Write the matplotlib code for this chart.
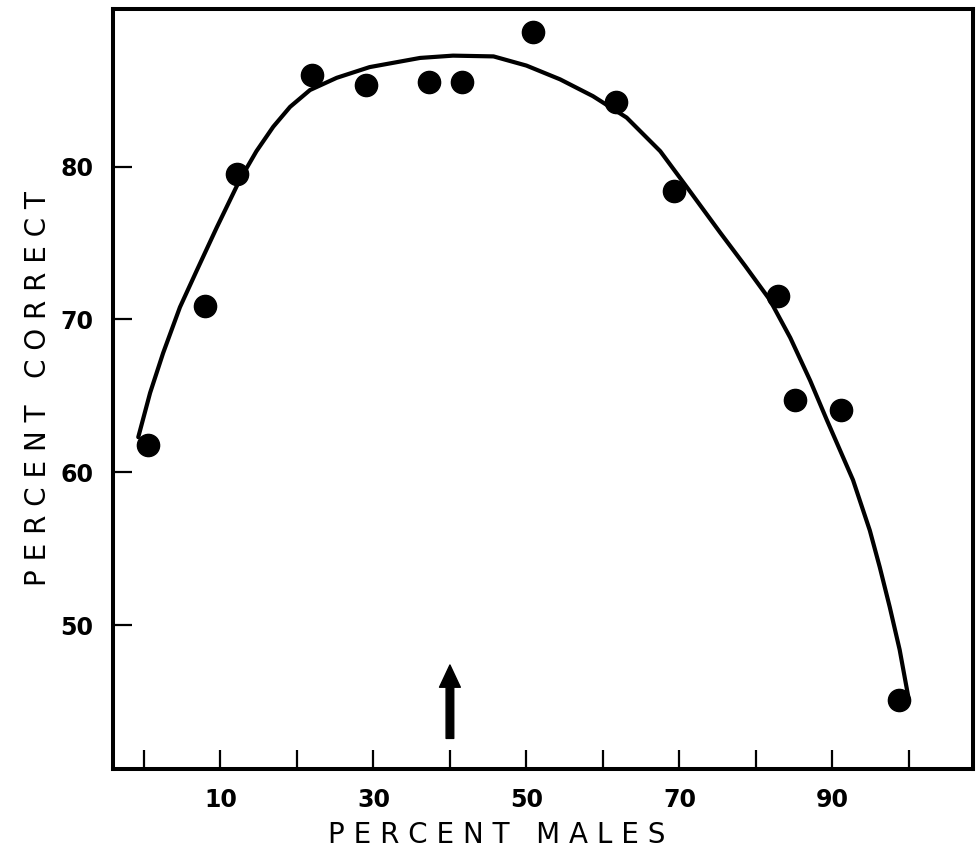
import matplotlib
matplotlib.use("Agg")
import matplotlib.pyplot as plt

# observed points
males = [0.5, 8.0, 12.2, 22.0, 29.0, 37.3, 41.6, 50.9, 61.7, 69.3, 82.9, 85.1, 91.1, 98.7]
correct = [61.8, 70.9, 79.5, 86.0, 85.3, 85.5, 85.5, 88.8, 84.2, 78.4, 71.5, 64.7, 64.1, 45.1]

# fitted curve
curve_x = [-0.75, 0.8, 2.5, 4.7, 6.9, 9.5, 12.5, 14.7, 16.9, 19.1, 21.7, 25.2, 29.5,
           36.1, 40.4, 45.7, 50.0, 54.4, 58.7, 63.1, 67.5, 71.2, 75.3, 78.6, 81.8,
           84.5, 87.1, 89.3, 92.7, 94.9, 96.2, 97.5, 98.8, 99.9]
curve_y = [62.3, 65.2, 67.8, 70.8, 73.2, 76.0, 79.1, 81.0, 82.6, 83.9, 85.0, 85.8, 86.5,
           87.1, 87.25, 87.2, 86.6, 85.7, 84.6, 83.2, 81.0, 78.5, 75.7, 73.5, 71.3,
           68.8, 66.0, 63.4, 59.5, 56.2, 53.8, 51.2, 48.4, 45.4]

arrow_x = 40
arrow_base = 42.6
arrow_tip = 47.4

xticks = list(range(0, 101, 10))
xticklabels = ["", "10", "", "30", "", "50", "", "70", "", "90", ""]
yticks = [50, 60, 70, 80]

fig = plt.figure(figsize=(9.76, 8.57), dpi=100)
ax = fig.add_axes([0.1158, 0.1027, 0.8812, 0.8868])

ax.plot(curve_x, curve_y, color="black", lw=3, solid_capstyle="round",
        solid_joinstyle="round", zorder=2)
ax.plot(males, correct, "o", color="black", ms=16, zorder=3)

ax.annotate("", xy=(arrow_x, arrow_tip), xytext=(arrow_x, arrow_base),
            arrowprops=dict(arrowstyle="simple,head_width=1.5,head_length=1.6,tail_width=0.55",
                            mutation_scale=10, color="black", shrinkA=0, shrinkB=0))

ax.set_xlim(-4.05, 108.4)
ax.set_ylim(40.6, 90.3)
ax.set_xticks(xticks)
ax.set_xticklabels(xticklabels, fontsize=17, fontweight="bold")
ax.set_yticks(yticks)
ax.set_yticklabels([str(v) for v in yticks], fontsize=17, fontweight="bold")
ax.tick_params(direction="in", length=14, width=1.6, pad=14)

for s in ax.spines.values():
    s.set_linewidth(2.9)

ax.set_xlabel("P E R C E N T   M A L E S", fontsize=20)
ax.xaxis.set_label_coords(0.4465, -0.069)
ax.set_ylabel("P E R C E N T   C O R R E C T", fontsize=20, labelpad=6)

fig.savefig("out.png", dpi=100)
